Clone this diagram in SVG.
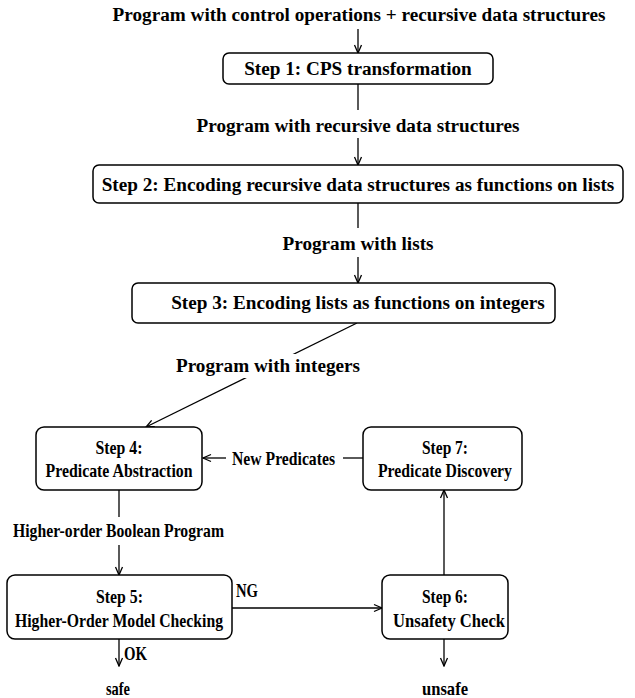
<svg xmlns="http://www.w3.org/2000/svg" width="635" height="698" viewBox="0 0 635 698">
<defs>
<marker id="ah" markerWidth="10" markerHeight="10" refX="9" refY="5" orient="auto" markerUnits="userSpaceOnUse">
<path d="M1,1.5 L9,5 L1,8.5" fill="none" stroke="#000" stroke-width="1.3"/>
</marker>
</defs>
<style>
text{font-family:"Liberation Serif","Times New Roman",serif;font-weight:bold;font-size:19.5px;fill:#000;text-anchor:middle}
.big{font-size:19.2px}
.box{fill:#fff;stroke:#000;stroke-width:1.5}
.c{fill:none;stroke:#000;stroke-width:1.3}
.a{marker-end:url(#ah)}
</style>
<rect width="635" height="698" fill="#fff"/>
<g id="connectors">
<line class="c a" x1="358" y1="29" x2="358" y2="53"/>
<line class="c" x1="358" y1="84" x2="358" y2="110"/>
<line class="c a" x1="358" y1="138" x2="358" y2="165"/>
<line class="c" x1="358" y1="203" x2="358" y2="228"/>
<line class="c a" x1="358" y1="257" x2="358" y2="283"/>
<line class="c a" x1="357" y1="323" x2="146" y2="427"/>
<line class="c a" x1="226" y1="458" x2="203" y2="458"/>
<line class="c" x1="363" y1="458" x2="343" y2="458"/>
<line class="c" x1="119" y1="490" x2="119" y2="517"/>
<line class="c a" x1="119" y1="545" x2="119" y2="575"/>
<line class="c a" x1="232" y1="608" x2="382" y2="608"/>
<line class="c a" x1="444" y1="575" x2="444" y2="490"/>
<line class="c a" x1="119" y1="639" x2="119" y2="666"/>
<line class="c a" x1="444" y1="639" x2="444" y2="666"/>
</g>
<g id="label-input"><text class="big" x="359" y="21">Program with control operations + recursive data structures</text></g>
<g id="step1"><rect class="box" x="223" y="53" width="270" height="31" rx="6"/><text class="big" x="358" y="75">Step 1: CPS transformation</text></g>
<g id="label-recursive"><text class="big" x="358" y="132">Program with recursive data structures</text></g>
<g id="step2"><rect class="box" x="93" y="165" width="530" height="38" rx="6"/><text class="big" x="358" y="191">Step 2: Encoding recursive data structures as functions on lists</text></g>
<g id="label-lists"><text class="big" x="358" y="250">Program with lists</text></g>
<g id="step3"><rect class="box" x="132" y="283" width="423" height="40" rx="6"/><text class="big" x="358" y="309">Step 3: Encoding lists as functions on integers</text></g>
<g id="label-integers"><rect x="175" y="354" width="188" height="24" fill="#fff"/><text class="big" x="268" y="372">Program with integers</text></g>
<g id="step4"><rect class="box" x="36" y="427" width="166" height="63" rx="8"/><text x="119" y="454" textLength="47" lengthAdjust="spacingAndGlyphs">Step 4:</text><text x="119" y="477" textLength="147" lengthAdjust="spacingAndGlyphs">Predicate Abstraction</text></g>
<g id="label-newpred"><text x="283.5" y="465" textLength="103" lengthAdjust="spacingAndGlyphs">New Predicates</text></g>
<g id="step7"><rect class="box" x="363" y="427" width="159" height="63" rx="8"/><text x="445" y="454" textLength="46" lengthAdjust="spacingAndGlyphs">Step 7:</text><text x="445" y="477" textLength="134" lengthAdjust="spacingAndGlyphs">Predicate Discovery</text></g>
<g id="label-hobp"><text x="118.5" y="537" textLength="211" lengthAdjust="spacingAndGlyphs">Higher-order Boolean Program</text></g>
<g id="step5"><rect class="box" x="7" y="575" width="225" height="64" rx="8"/><text x="119.5" y="603" textLength="47" lengthAdjust="spacingAndGlyphs">Step 5:</text><text x="119" y="627" textLength="208" lengthAdjust="spacingAndGlyphs">Higher-Order Model Checking</text></g>
<g id="label-ng"><text x="247" y="597" textLength="22" lengthAdjust="spacingAndGlyphs">NG</text></g>
<g id="step6"><rect class="box" x="382" y="575" width="126" height="64" rx="8"/><text x="445" y="603" textLength="46" lengthAdjust="spacingAndGlyphs">Step 6:</text><text x="449" y="627" textLength="112" lengthAdjust="spacingAndGlyphs">Unsafety Check</text></g>
<g id="label-ok"><text x="135.5" y="660" textLength="23" lengthAdjust="spacingAndGlyphs">OK</text></g>
<g id="label-safe"><text x="118" y="695" textLength="24" lengthAdjust="spacingAndGlyphs">safe</text></g>
<g id="label-unsafe"><text x="445" y="695" textLength="46" lengthAdjust="spacingAndGlyphs">unsafe</text></g>
</svg>
